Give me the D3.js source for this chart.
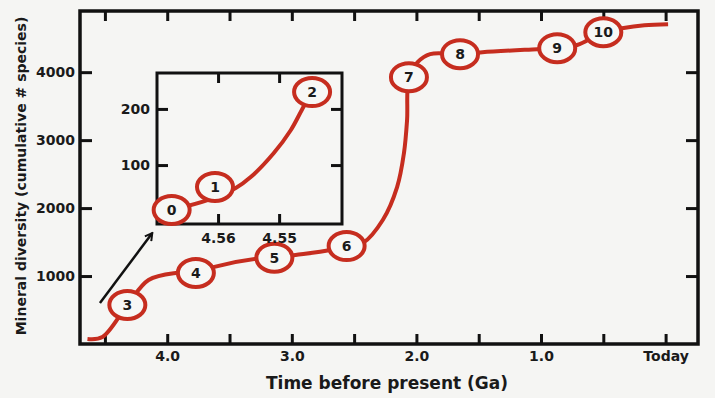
<!DOCTYPE html>
<html>
<head>
<meta charset="utf-8">
<script src="https://cdn.jsdelivr.net/npm/d3@7"></script>
<style>
  body { margin: 0; background: #f5f5f3; }
  svg { display: block; font-family: "DejaVu Sans", Verdana, sans-serif; font-weight: bold; }
  .tick line { stroke: #111; stroke-width: 3; }
  .domain { display: none; }
</style>
</head>
<body>
<script>

// mineral diversity curve (age in Ga, cumulative # species)
var curveAge = [4.64, 4.52, 4.32, 4.15, 3.93, 3.77, 3.63, 3.28, 3.14, 2.97, 2.69, 2.56, 2.43, 2.27,
                2.155, 2.10, 2.075, 2.06, 1.99, 1.89, 1.65, 1.47, 1.03, 0.87, 0.71, 0.50, 0.35, 0.17, -0.02];
var curveSpecies = [74, 103, 574, 941, 1044, 1045, 1132, 1255, 1270, 1309, 1382, 1441, 1485, 1824,
                    2309, 2809, 3294, 3926, 4147, 4265, 4265, 4294, 4338, 4353, 4400, 4588, 4647, 4691, 4706];

// numbered stages on the main curve
var stageLabels = ["3", "4", "5", "6", "7", "8", "9", "10"];
var stageAge = [4.32, 3.77, 3.14, 2.56, 2.06, 1.65, 0.87, 0.50];
var stageSpecies = [574, 1045, 1270, 1441, 3926, 4265, 4353, 4588];

// inset: first few million years
var insetAge = [4.5676, 4.5616, 4.5571, 4.5546, 4.5509, 4.5481, 4.5460, 4.5446];
var insetSpecies = [20, 38, 59, 79, 121, 162, 204, 230];
var insetLabels = ["0", "1", "2"];
var insetStageAge = [4.5676, 4.5605, 4.5446];
var insetStageSpecies = [20, 61, 230];

// ticks
var xTicks = [4.5, 4.0, 3.5, 3.0, 2.5, 2.0, 1.5, 1.0, 0.5, 0];
var xTickLabels = ["", "4.0", "", "3.0", "", "2.0", "", "1.0", "", "Today"];
var yTicks = [1000, 2000, 3000, 4000];
var insetXTicks = [4.56, 4.55];
var insetYTicks = [100, 200];

var w = 715;
var h = 398;
var red = "#c62d1f";
var main = {left: 80, right: 698, top: 11, bottom: 344};
var inset = {left: 157, right: 342, top: 73, bottom: 224};

var svg = d3.select("body")
            .append("svg")
            .attr("width", w)
            .attr("height", h);

// scales
var x = d3.scaleLinear().domain([4.70, -0.26]).range([main.left, main.right]);
var y = d3.scaleLinear().domain([0, 4900]).range([main.bottom, main.top]);
var xi = d3.scaleLinear().domain([4.570, 4.5397]).range([inset.left, inset.right]);
var yi = d3.scaleLinear().domain([-5, 264]).range([inset.bottom, inset.top]);

function styleAxis(g) {
  g.attr("font-size", 14)
   .attr("font-family", null)
   .selectAll("text")
   .attr("fill", "#1a1a1a");
}

// main axes (ticks point inward, on all four sides)
svg.append("g")
   .attr("transform", "translate(0," + main.bottom + ")")
   .call(d3.axisBottom(x).tickValues(xTicks).tickSizeInner(-10).tickSizeOuter(0).tickPadding(7)
           .tickFormat(function(d, i) { return xTickLabels[i]; }))
   .call(styleAxis);
svg.append("g")
   .attr("transform", "translate(0," + main.top + ")")
   .call(d3.axisTop(x).tickValues(xTicks).tickSizeInner(-10).tickSizeOuter(0).tickFormat(""));
svg.append("g")
   .attr("transform", "translate(" + main.left + ",0)")
   .call(d3.axisLeft(y).tickValues(yTicks).tickSizeInner(-12).tickSizeOuter(0).tickPadding(5)
           .tickFormat(d3.format("d")))
   .call(styleAxis);
svg.append("g")
   .attr("transform", "translate(" + main.right + ",0)")
   .call(d3.axisRight(y).tickValues(yTicks).tickSizeInner(-12).tickSizeOuter(0).tickFormat(""));

svg.append("rect")
   .attr("x", main.left)
   .attr("y", main.top)
   .attr("width", main.right - main.left)
   .attr("height", main.bottom - main.top)
   .attr("fill", "none")
   .attr("stroke", "#111")
   .attr("stroke-width", 3.5);

// axis titles
svg.append("text")
   .attr("x", 387)
   .attr("y", 389)
   .attr("text-anchor", "middle")
   .style("font-size", "17px")
   .attr("fill", "#1a1a1a")
   .text("Time before present (Ga)");

svg.append("text")
   .attr("transform", "translate(26,176) rotate(-90)")
   .attr("text-anchor", "middle")
   .style("font-size", "14px")
   .attr("fill", "#1a1a1a")
   .text("Mineral diversity (cumulative # species)");

// arrow pointing to inset
svg.append("defs").append("marker")
   .attr("id", "head")
   .attr("viewBox", "0 0 10 10")
   .attr("refX", 8)
   .attr("refY", 5)
   .attr("markerWidth", 4)
   .attr("markerHeight", 4)
   .attr("orient", "auto")
   .append("path")
   .attr("d", "M1,1 L8,5 L1,9")
   .attr("fill", "none")
   .attr("stroke", "#111")
   .attr("stroke-width", 2);

svg.append("line")
   .attr("x1", x(4.54))
   .attr("y1", y(603))
   .attr("x2", x(4.12))
   .attr("y2", y(1632))
   .attr("stroke", "#111")
   .attr("stroke-width", 2.5)
   .attr("marker-end", "url(#head)");

// main curve
var line = d3.line()
             .x(function(d) { return x(d[0]); })
             .y(function(d) { return y(d[1]); })
             .curve(d3.curveCatmullRom.alpha(0.5));

svg.append("path")
   .datum(d3.zip(curveAge, curveSpecies))
   .attr("d", line)
   .attr("fill", "none")
   .attr("stroke", red)
   .attr("stroke-width", 4);

function drawStages(g, labels, ages, values, sx, sy) {
  /* white ellipses with a number, sitting on the curve */
  var stages = g.selectAll(".stage")
                .data(d3.zip(labels, ages, values))
                .enter()
                .append("g")
                .attr("class", "stage")
                .attr("transform", function(d) {
                  return "translate(" + sx(d[1]) + "," + sy(d[2]) + ")";
                });

  stages.append("ellipse")
        .attr("rx", 18)
        .attr("ry", 14)
        .attr("fill", "#f7f7f5")
        .attr("stroke", red)
        .attr("stroke-width", 4);

  stages.append("text")
        .attr("text-anchor", "middle")
        .attr("dy", "0.36em")
        .style("font-size", "14px")
        .attr("fill", "#1a1a1a")
        .text(function(d) { return d[0]; });
}

drawStages(svg, stageLabels, stageAge, stageSpecies, x, y);

// inset
var ig = svg.append("g").attr("class", "inset");

ig.append("rect")
  .attr("x", inset.left)
  .attr("y", inset.top)
  .attr("width", inset.right - inset.left)
  .attr("height", inset.bottom - inset.top)
  .attr("fill", "#f6f6f4")
  .attr("stroke", "none");

ig.append("g")
  .attr("transform", "translate(0," + inset.bottom + ")")
  .call(d3.axisBottom(xi).tickValues(insetXTicks).tickSizeInner(-10).tickSizeOuter(0).tickPadding(9)
          .tickFormat(d3.format(".2f")))
  .call(styleAxis);
ig.append("g")
  .attr("transform", "translate(0," + inset.top + ")")
  .call(d3.axisTop(xi).tickValues(insetXTicks).tickSizeInner(-10).tickSizeOuter(0).tickFormat(""));
ig.append("g")
  .attr("transform", "translate(" + inset.left + ",0)")
  .call(d3.axisLeft(yi).tickValues(insetYTicks).tickSizeInner(-11).tickSizeOuter(0).tickPadding(7))
  .call(styleAxis);
ig.append("g")
  .attr("transform", "translate(" + inset.right + ",0)")
  .call(d3.axisRight(yi).tickValues(insetYTicks).tickSizeInner(-11).tickSizeOuter(0).tickFormat(""));

ig.append("path")
  .datum(d3.zip(insetAge, insetSpecies))
  .attr("d", d3.line()
               .x(function(d) { return xi(d[0]); })
               .y(function(d) { return yi(d[1]); })
               .curve(d3.curveCatmullRom.alpha(0.5)))
  .attr("fill", "none")
  .attr("stroke", red)
  .attr("stroke-width", 4);

ig.append("rect")
  .attr("x", inset.left)
  .attr("y", inset.top)
  .attr("width", inset.right - inset.left)
  .attr("height", inset.bottom - inset.top)
  .attr("fill", "none")
  .attr("stroke", "#111")
  .attr("stroke-width", 3);

drawStages(ig, insetLabels, insetStageAge, insetStageSpecies, xi, yi);

</script>
</body>
</html>
